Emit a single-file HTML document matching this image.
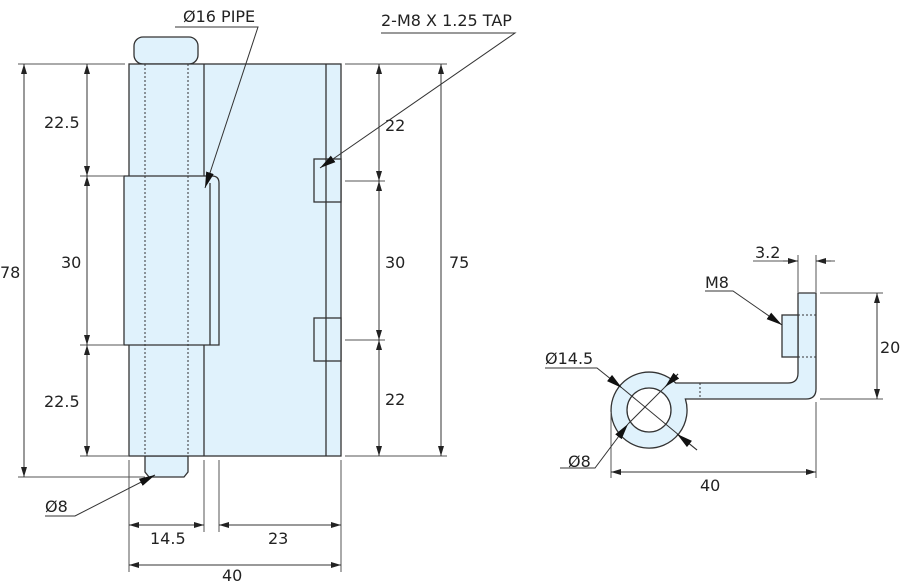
<!DOCTYPE html>
<html><head><style>body{margin:0;background:#fff}svg{display:block}text{font-family:"DejaVu Sans","Liberation Sans",sans-serif;font-size:16px;fill:#222}</style></head><body>
<svg width="900" height="583" viewBox="0 0 900 583" xmlns="http://www.w3.org/2000/svg">
<defs>
<marker id="a" viewBox="0 0 10 6" refX="10" refY="3" markerWidth="10" markerHeight="6" orient="auto-start-reverse" markerUnits="userSpaceOnUse"><path d="M0,0L10,3L0,6z" fill="#222"/></marker>
<marker id="b" viewBox="0 0 16 8" refX="16" refY="4" markerWidth="16" markerHeight="8" orient="auto" markerUnits="userSpaceOnUse"><path d="M0,0L16,4L0,8z" fill="#111"/></marker>
</defs>
<g fill="#e0f2fc" stroke="#333" stroke-width="1.3">
<rect x="134" y="37" width="64" height="27" rx="9"/>
<path d="M145,456 L188,456 L188,472 L184,477 L149,477 L145,472 Z"/>
<rect x="129" y="64" width="212" height="392"/>
<path d="M124,176 L212,176 Q219,176 219,183 L219,345 L124,345 Z"/>
<rect x="314" y="159" width="27" height="43"/>
<rect x="314" y="318" width="27" height="43"/>
</g>
<g stroke="#333" stroke-width="1.3" fill="none">
<line x1="204" y1="64" x2="204" y2="176"/><line x1="204" y1="345" x2="204" y2="456"/>
<line x1="210" y1="183" x2="210" y2="345"/>
<line x1="326" y1="64" x2="326" y2="456"/>
</g>
<g stroke="#333" stroke-width="1" stroke-dasharray="2,2">
<line x1="145" y1="64" x2="145" y2="456"/><line x1="188" y1="64" x2="188" y2="456"/>
</g>
<g stroke="#555" stroke-width="1" fill="none">
<line x1="18" y1="64" x2="125" y2="64"/><line x1="18" y1="477" x2="145" y2="477"/>
<line x1="80" y1="176" x2="124" y2="176"/><line x1="80" y1="345" x2="124" y2="345"/>
<line x1="80" y1="456" x2="129" y2="456"/>
<line x1="345" y1="64" x2="447" y2="64"/><line x1="345" y1="456" x2="447" y2="456"/>
<line x1="345" y1="181" x2="385" y2="181"/><line x1="345" y1="340" x2="385" y2="340"/>
<line x1="129" y1="460" x2="129" y2="572"/><line x1="341" y1="460" x2="341" y2="572"/>
<line x1="204" y1="460" x2="204" y2="532"/><line x1="219" y1="460" x2="219" y2="532"/>
</g>
<g stroke="#333" stroke-width="1" marker-start="url(#a)" marker-end="url(#a)">
<line x1="24" y1="64" x2="24" y2="477"/>
<line x1="87" y1="64" x2="87" y2="176"/><line x1="87" y1="176" x2="87" y2="345"/><line x1="87" y1="345" x2="87" y2="456"/>
<line x1="379" y1="64" x2="379" y2="181"/><line x1="379" y1="181" x2="379" y2="340"/><line x1="379" y1="340" x2="379" y2="456"/>
<line x1="441" y1="64" x2="441" y2="456"/>
<line x1="129" y1="525" x2="204" y2="525"/><line x1="219" y1="525" x2="341" y2="525"/>
<line x1="129" y1="565" x2="341" y2="565"/>
</g>
<text x="0" y="278">78</text>
<text x="44" y="128">22.5</text><text x="61" y="268">30</text><text x="44" y="407">22.5</text>
<text x="385" y="131">22</text><text x="385" y="268">30</text><text x="385" y="405">22</text>
<text x="449" y="268">75</text>
<text x="150" y="544">14.5</text><text x="268" y="544">23</text><text x="222" y="581">40</text>
<g stroke="#333" stroke-width="1" fill="none">
<polyline points="175,27 258,27 205,188" marker-end="url(#b)"/>
<polyline points="381,33 515,33 320,168" marker-end="url(#b)"/>
<polyline points="45,516 75,516 155,475" marker-end="url(#b)"/>
</g>
<text x="183" y="22">Ø16 PIPE</text>
<text x="381" y="26">2-M8 X 1.25 TAP</text>
<text x="45" y="512">Ø8</text>
<!-- right view -->
<g fill="#e0f2fc" stroke="#333" stroke-width="1.3">
<path d="M798,293 L816,293 L816,389 Q816,399 806,399 L685.4,399 A38,38 0 1 1 675.7,383 L788,383 Q798,383 798,373 Z"/>
<circle cx="649" cy="410" r="22" fill="#fff"/>
<rect x="782" y="315" width="16" height="42"/>
</g>
<g stroke="#333" stroke-width="1" stroke-dasharray="2,2">
<line x1="700" y1="383" x2="700" y2="399"/><line x1="798" y1="315" x2="816" y2="315"/><line x1="798" y1="357" x2="816" y2="357"/>
</g>
<g stroke="#555" stroke-width="1" fill="none">
<line x1="798" y1="255" x2="798" y2="292"/><line x1="816" y1="255" x2="816" y2="292"/>
<line x1="820" y1="293" x2="883" y2="293"/><line x1="820" y1="399" x2="883" y2="399"/>
<line x1="611" y1="412" x2="611" y2="478"/><line x1="816" y1="402" x2="816" y2="478"/>
<line x1="753" y1="261" x2="798" y2="261"/><line x1="816" y1="261" x2="835" y2="261"/>
</g>
<g stroke="#333" stroke-width="1">
<line x1="783" y1="261" x2="798" y2="261" marker-end="url(#a)"/>
<line x1="831" y1="261" x2="816" y2="261" marker-end="url(#a)"/>
</g>
<g stroke="#333" stroke-width="1" marker-start="url(#a)" marker-end="url(#a)">
<line x1="877" y1="293" x2="877" y2="399"/>
<line x1="611" y1="472" x2="816" y2="472"/>
</g>
<g stroke="#333" stroke-width="1" fill="none">
<polyline points="705,291 733,291 782,325" marker-end="url(#b)"/>
<polyline points="545,368 597,368 622,388" marker-end="url(#b)"/>
<line x1="622" y1="388" x2="697" y2="450"/>
<line x1="697" y1="450" x2="677" y2="434" marker-end="url(#b)"/>
<polyline points="560,468 595,468 628,424" marker-end="url(#b)"/>
<line x1="628" y1="424" x2="678" y2="374"/>
<line x1="678" y1="374" x2="665" y2="387" marker-end="url(#b)"/>
</g>
<text x="705" y="288">M8</text>
<text x="755" y="258">3.2</text>
<text x="880" y="353">20</text>
<text x="545" y="364">Ø14.5</text>
<text x="568" y="467">Ø8</text>
<text x="700" y="491">40</text>
</svg>
</body></html>
